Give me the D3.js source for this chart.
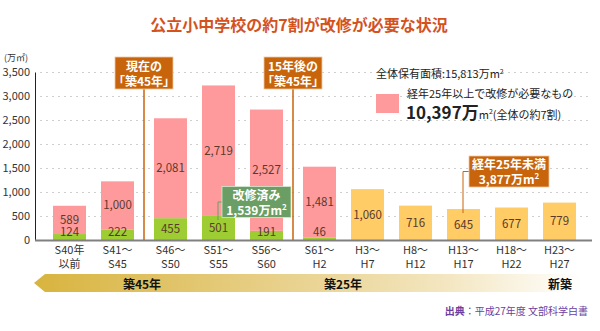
<!DOCTYPE html>
<html>
<head>
<meta charset="utf-8">
<script src="https://cdn.jsdelivr.net/npm/d3@7"></script>
<style>
  body { margin: 0; background: #fff; }
  svg { display: block; font-family: "Noto Sans CJK JP", "Noto Sans", sans-serif; }
  .grid line { stroke: #cfcfcf; stroke-dasharray: 2 4; }
  .grid path { display: none; }
</style>
</head>
<body>
<div id="chart"></div>
<script>
// period labels (two lines each)
var periodTop = ["S40年", "S41〜", "S46〜", "S51〜", "S56〜", "S61〜", "H3〜", "H8〜", "H13〜", "H18〜", "H23〜"];
var periodBottom = ["以前", "S45", "S50", "S55", "S60", "H2", "H7", "H12", "H17", "H22", "H27"];

// 万m2
var renovated = [124, 222, 455, 501, 191, 46, 0, 0, 0, 0, 0];
var needsRepair = [589, 1000, 2081, 2719, 2527, 1481, 0, 0, 0, 0, 0];
var under25 = [0, 0, 0, 0, 0, 0, 1060, 716, 645, 677, 779];

var yTicks = [0, 500, 1000, 1500, 2000, 2500, 3000, 3500];

var svgWidth = 600, svgHeight = 331;
var fmt = d3.format(",");

var svg = d3.select("#chart").append("svg")
  .attr("width", svgWidth)
  .attr("height", svgHeight);

var defs = svg.append("defs");
var grad = defs.append("linearGradient").attr("id", "band");
grad.append("stop").attr("offset", "0%").attr("stop-color", "#d8b43e");
grad.append("stop").attr("offset", "40%").attr("stop-color", "#e6cd82");
grad.append("stop").attr("offset", "75%").attr("stop-color", "#f3e6c0");
grad.append("stop").attr("offset", "100%").attr("stop-color", "#ffffff");

// title
svg.append("text")
  .attr("x", 299).attr("y", 31)
  .attr("text-anchor", "middle")
  .attr("font-size", 16).attr("font-weight", "bold")
  .attr("fill", "#d4521c")
  .text("公立小中学校の約7割が改修が必要な状況");

// scales
var y = d3.scaleLinear().domain([0, 3500]).range([240, 72]);

var x = d3.scaleBand()
  .domain(d3.range(periodTop.length))
  .range([45.5, 573.5])
  .paddingInner(0.3125)
  .paddingOuter(0.15625);

// extra room around the two marker lines
function gap(i) { return (i >= 2 ? 5 : 0) + (i >= 5 ? 5 : 0); }
function xPos(i) { return x(i) + gap(i); }
var bw = x.bandwidth();

// gridlines
svg.append("g")
  .attr("class", "grid")
  .attr("transform", "translate(40,0)")
  .call(d3.axisLeft(y).tickValues(yTicks.slice(1)).tickSize(-550).tickFormat(""));

// y tick labels
svg.append("g")
  .attr("transform", "translate(35,0)")
  .call(d3.axisLeft(y).tickValues(yTicks).tickSize(0).tickPadding(5).tickFormat(fmt))
  .call(g => g.select(".domain").attr("stroke", "#222"))
  .call(g => g.selectAll("text").attr("font-size", 11).attr("fill", "#333")
    .attr("font-family", "\"Noto Sans CJK JP\", sans-serif"));

svg.append("text")
  .attr("x", 4).attr("y", 61)
  .attr("font-size", 9).attr("fill", "#333")
  .text("(万㎡)");

// bars
var rows = periodTop.map(function(p, i) {
  return { i: i, g: renovated[i], p: needsRepair[i], o: under25[i] };
});

var bars = svg.append("g").selectAll("g").data(rows).enter().append("g");

bars.filter(d => d.g > 0).append("rect")
  .attr("x", d => xPos(d.i)).attr("width", bw)
  .attr("y", d => y(d.g)).attr("height", d => y(0) - y(d.g))
  .attr("fill", "#9dcc33");

bars.filter(d => d.p > 0).append("rect")
  .attr("x", d => xPos(d.i)).attr("width", bw)
  .attr("y", d => y(d.g + d.p)).attr("height", d => y(d.g) - y(d.g + d.p))
  .attr("fill", "#ff9a9c");

bars.filter(d => d.o > 0).append("rect")
  .attr("x", d => xPos(d.i)).attr("width", bw)
  .attr("y", d => y(d.o)).attr("height", d => y(0) - y(d.o))
  .attr("fill", "#ffcc66");

function valueLabel(sel, yy, txt) {
  sel.append("text")
    .attr("x", d => xPos(d.i) + bw / 2)
    .attr("y", yy)
    .attr("dy", "0.36em")
    .attr("text-anchor", "middle")
    .attr("font-size", 11.5)
    .attr("fill", "#5a3a2c")
    .text(txt);
}
valueLabel(bars.filter(d => d.g > 0), d => Math.min((y(0) + y(d.g)) / 2, 232), d => fmt(d.g));
valueLabel(bars.filter(d => d.p > 0), d => (y(d.g) + y(d.g + d.p)) / 2, d => fmt(d.p));
valueLabel(bars.filter(d => d.o > 0), d => (y(0) + y(d.o)) / 2, d => fmt(d.o));

// baseline
svg.append("line")
  .attr("x1", 35).attr("x2", 592)
  .attr("y1", y(0) + 0.5).attr("y2", y(0) + 0.5)
  .attr("stroke", "#808080").attr("stroke-width", 2);

// x labels
var xl = svg.append("g").selectAll("text").data(rows).enter().append("text")
  .attr("text-anchor", "middle")
  .attr("font-size", 11).attr("fill", "#333");
xl.append("tspan").attr("x", d => xPos(d.i) + bw / 2).attr("y", 254).text(d => periodTop[d.i]);
xl.append("tspan").attr("x", d => xPos(d.i) + bw / 2).attr("y", 268).text(d => periodBottom[d.i]);

// marker lines with boxes
var orange = "#c8650c";
function marker(i, lines) {
  var mx = (xPos(i) + bw + xPos(i + 1)) / 2;
  svg.append("line")
    .attr("x1", mx).attr("x2", mx).attr("y1", 85).attr("y2", y(0))
    .attr("stroke", orange).attr("stroke-width", 1.5);
  svg.append("rect")
    .attr("x", mx - 29).attr("y", 57).attr("width", 58).attr("height", 32)
    .attr("fill", orange).attr("stroke", "#f3c9a0").attr("stroke-width", 0.8);
  var t = svg.append("text").attr("text-anchor", "middle")
    .attr("font-size", 12).attr("font-weight", "bold").attr("fill", "#fff");
  t.append("tspan").attr("x", mx).attr("y", 71).text(lines[0]);
  t.append("tspan").attr("x", mx).attr("y", 86).text(lines[1]);
}
marker(1, ["現在の", "「築45年」"]);
marker(4, ["15年後の", "「築45年」"]);

// renovated callout
var gx = xPos(3) + 16;
svg.append("path")
  .attr("d", "M" + (gx + 4) + ",202 H" + gx + " V220")
  .attr("fill", "none").attr("stroke", "#6a9e64").attr("stroke-width", 1);
svg.append("rect")
  .attr("x", gx + 4).attr("y", 186.5).attr("width", 69).attr("height", 31)
  .attr("fill", "#6a9e64").attr("stroke", "#d6e8d0").attr("stroke-width", 0.8);
var gt = svg.append("text").attr("text-anchor", "middle")
  .attr("font-size", 12).attr("font-weight", "bold").attr("fill", "#fff");
gt.append("tspan").attr("x", gx + 38.5).attr("y", 199.5).text("改修済み");
gt.append("tspan").attr("x", gx + 38.5).attr("y", 214.5).text("1,539万m");
gt.append("tspan").attr("dy", -5).attr("font-size", 8).text("2");

// under 25 years callout
var ox = xPos(8) + 16;
svg.append("path")
  .attr("d", "M" + (ox + 6) + ",171.5 H" + ox + " V213")
  .attr("fill", "none").attr("stroke", orange).attr("stroke-width", 1);
svg.append("rect")
  .attr("x", ox + 6).attr("y", 156).attr("width", 80).attr("height", 31)
  .attr("fill", orange).attr("stroke", "#f3c9a0").attr("stroke-width", 0.8);
var ot = svg.append("text").attr("text-anchor", "middle")
  .attr("font-size", 12).attr("font-weight", "bold").attr("fill", "#fff");
ot.append("tspan").attr("x", ox + 46).attr("y", 169).text("経年25年未満");
ot.append("tspan").attr("x", ox + 46).attr("y", 184).text("3,877万m");
ot.append("tspan").attr("dy", -5).attr("font-size", 8).text("2");

// legend
var lg = svg.append("g").attr("font-size", 11).attr("fill", "#222");
var t1 = lg.append("text").attr("x", 376).attr("y", 78).text("全体保有面積:15,813万m");
t1.append("tspan").attr("dy", -4).attr("font-size", 7).text("2");
lg.append("rect").attr("x", 376).attr("y", 94).attr("width", 23).attr("height", 19).attr("fill", "#ff9a9c");
lg.append("text").attr("x", 407).attr("y", 98).text("経年25年以上で改修が必要なもの");
var t2 = lg.append("text").attr("x", 406).attr("y", 118.5);
t2.append("tspan").attr("font-size", 17).attr("font-weight", "bold").text("10,397万");
t2.append("tspan").attr("font-size", 11).text("m");
t2.append("tspan").attr("dy", -5).attr("font-size", 7).text("2");
t2.append("tspan").attr("dy", 5).attr("font-size", 11).text("(全体の約7割)");

// age band arrow
svg.append("path")
  .attr("d", "M34,283 L45,274 H582 V292 H45 Z")
  .attr("fill", "url(#band)");
var bandLabels = [["築45年", 142], ["築25年", 343], ["新築", 560]];
svg.append("g").selectAll("text").data(bandLabels).enter().append("text")
  .attr("x", d => d[1]).attr("y", 288.5)
  .attr("text-anchor", "middle")
  .attr("font-size", 12).attr("font-weight", "bold").attr("fill", "#111")
  .text(d => d[0]);

// source
var src = svg.append("text")
  .attr("x", 588).attr("y", 315).attr("text-anchor", "end")
  .attr("font-size", 10).attr("fill", "#6b3fa0");
src.append("tspan").attr("font-weight", "bold").text("出典");
src.append("tspan").text("：平成27年度 文部科学白書");
</script>
</body>
</html>
